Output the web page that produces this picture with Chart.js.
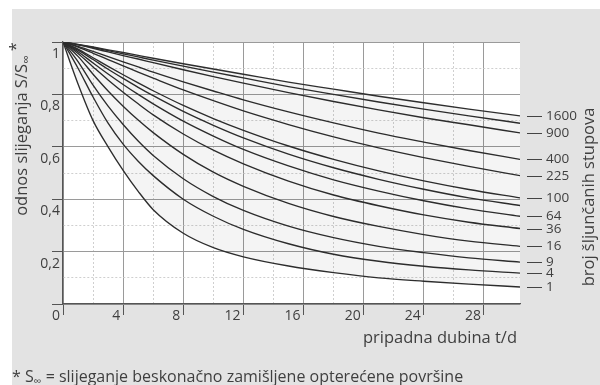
<!DOCTYPE html>
<html><head><meta charset="utf-8">
<script src="https://cdn.jsdelivr.net/npm/chart.js@4.4.0/dist/chart.umd.min.js"></script>
<style>html,body{margin:0;padding:0;background:#fff}#wrap{width:600px;height:385px;position:relative}</style>
</head><body><div id="wrap"><canvas id="c" width="600" height="385"></canvas></div>
<script>
// depth ratio t/d (x values)
const depth = [0,1,2,3,4,5,6,8,10,12,15,18,21,24,27,30.4];
// settlement ratio S/S∞ for each number of stone columns
const s1600 = [1,0.991,0.981,0.970,0.960,0.949,0.938,0.917,0.897,0.877,0.847,0.820,0.793,0.768,0.744,0.718];
const s1225 = [1,0.990,0.979,0.967,0.955,0.943,0.931,0.908,0.885,0.863,0.830,0.800,0.771,0.744,0.718,0.690];
const s900  = [1,0.989,0.976,0.962,0.948,0.935,0.921,0.894,0.868,0.843,0.807,0.773,0.741,0.711,0.684,0.653];
const s400  = [1,0.983,0.964,0.944,0.924,0.905,0.885,0.848,0.813,0.779,0.733,0.691,0.652,0.618,0.586,0.552];
const s225  = [1,0.980,0.957,0.933,0.909,0.885,0.862,0.817,0.776,0.737,0.685,0.638,0.596,0.559,0.525,0.490];
const s100  = [1,0.973,0.940,0.907,0.875,0.844,0.814,0.758,0.708,0.663,0.603,0.552,0.508,0.470,0.437,0.405];
const s81   = [1,0.969,0.933,0.896,0.861,0.827,0.795,0.735,0.682,0.634,0.572,0.520,0.476,0.438,0.405,0.376];
const s64   = [1,0.963,0.920,0.878,0.838,0.800,0.764,0.698,0.641,0.590,0.527,0.474,0.431,0.394,0.363,0.335];
const s36   = [1,0.956,0.905,0.855,0.808,0.764,0.722,0.649,0.587,0.535,0.469,0.416,0.375,0.340,0.312,0.288];
const s16   = [1,0.945,0.877,0.813,0.755,0.702,0.654,0.571,0.503,0.449,0.384,0.334,0.296,0.265,0.240,0.220];
const s9    = [1,0.925,0.835,0.755,0.685,0.622,0.567,0.478,0.410,0.357,0.297,0.253,0.220,0.196,0.176,0.160];
const s4    = [1,0.900,0.790,0.690,0.610,0.545,0.490,0.400,0.335,0.285,0.230,0.190,0.163,0.144,0.130,0.118];
const s1    = [1,0.840,0.700,0.600,0.510,0.430,0.360,0.270,0.215,0.180,0.145,0.120,0.100,0.087,0.076,0.065];
const seriesList = [s1600,s1225,s900,s400,s225,s100,s81,s64,s36,s16,s9,s4,s1];
const curveLabels = ['1600','','900','400','225','100','','64','36','16','9','4','1'];

const FONT = "'Open Sans', 'DejaVu Sans', sans-serif";
const TXT = '#3f3f3f';

const datasets = seriesList.map((s, i) => ({
  label: curveLabels[i],
  data: s.map((v, j) => ({x: depth[j], y: v})),
  borderColor: '#2e2e2e',
  borderWidth: 1.35,
  pointRadius: 0,
  cubicInterpolationMode: 'monotone',
  fill: i === 0 ? seriesList.length - 1 : false,
  backgroundColor: 'rgba(0,0,0,0.045)'
}));

function drawRich(ctx, parts, x, y, align) {
  let w = 0;
  parts.forEach(p => { ctx.font = p.size + 'px ' + FONT; p.w = ctx.measureText(p.t).width; w += p.w; });
  let cx = align === 'center' ? x - w / 2 : (align === 'right' ? x - w : x);
  parts.forEach(p => {
    ctx.font = p.size + 'px ' + FONT;
    ctx.fillText(p.t, cx, y + (p.dy || 0));
    cx += p.w;
  });
}

const deco = {
  id: 'deco',
  beforeDraw(chart) {
    const ctx = chart.ctx, a = chart.chartArea;
    ctx.save();
    ctx.fillStyle = '#ffffff';
    ctx.fillRect(0, 0, 600, 385);
    ctx.fillStyle = '#e3e3e3';
    ctx.fillRect(12, 9, 588, 376);
    ctx.fillStyle = '#ffffff';
    ctx.fillRect(a.left, a.top, a.right - a.left, a.bottom - a.top);
    ctx.restore();
  },
  afterDraw(chart) {
    const ctx = chart.ctx, ys = chart.scales.y;
    ctx.save();
    ctx.fillStyle = TXT;
    ctx.strokeStyle = '#444';
    ctx.lineWidth = 1;
    ctx.textBaseline = 'middle';
    // right-side curve labels
    seriesList.forEach((s, i) => {
      if (!curveLabels[i]) return;
      const y = Math.round(ys.getPixelForValue(s[s.length - 1])) + 0.5;
      ctx.beginPath(); ctx.moveTo(527, y); ctx.lineTo(542, y); ctx.stroke();
      ctx.font = '13.5px ' + FONT;
      ctx.textAlign = 'left';
      ctx.fillText(curveLabels[i], 546, y);
    });
    ctx.textAlign = 'left';
    ctx.textBaseline = 'alphabetic';
    // left axis title (rotated)
    ctx.save();
    ctx.translate(27, 129);
    ctx.rotate(-Math.PI / 2);
    drawRich(ctx, [
      {t: 'odnos slijeganja S/S', size: 16.5},
      {t: '\u221E', size: 12, dy: 3},
      {t: ' *', size: 16.5, dy: -6}
    ], 0, 0, 'center');
    ctx.restore();
    // right axis title (rotated)
    ctx.save();
    ctx.translate(594, 197);
    ctx.rotate(-Math.PI / 2);
    drawRich(ctx, [{t: 'broj šljunčanih stupova', size: 16.5}], 0, 0, 'center');
    ctx.restore();
    // x title
    drawRich(ctx, [{t: 'pripadna dubina t/d', size: 16.5}], 517, 343, 'right');
    // footnote
    drawRich(ctx, [
      {t: '* S', size: 16},
      {t: '\u221E', size: 11, dy: 3},
      {t: ' = slijeganje beskonačno zamišljene opterećene površine', size: 16}
    ], 12, 382, 'left');
    ctx.restore();
  }
};

const isXMajor = v => Math.abs(v % 4) < 1e-6 && v <= 28.01;
const isXMinor = v => Math.abs(v % 2) < 1e-6 && !isXMajor(v);
const yk = v => Math.round(v * 10);
const isYMajor = v => Math.abs(v * 10 - yk(v)) < 1e-6 && yk(v) % 2 === 0;
const isYMinor = v => Math.abs(v * 10 - yk(v)) < 1e-6 && yk(v) % 2 !== 0;

new Chart(document.getElementById('c'), {
  type: 'line',
  data: {datasets},
  plugins: [deco],
  options: {
    responsive: false,
    animation: false,
    layout: {padding: {left: 0, top: 42, right: 80, bottom: 0}},
    plugins: {legend: {display: false}, tooltip: {enabled: false}},
    scales: {
      x: {
        type: 'linear', min: 0, max: 30.4,
        afterFit: s => { s.height = 81; },
        ticks: {
          stepSize: 2, autoSkip: false, maxRotation: 0, minRotation: 0,
          align: 'end', labelOffset: -3, padding: -7,
          color: TXT, font: {family: FONT, size: 14},
          callback: v => isXMajor(v) ? String(v) : ''
        },
        grid: {
          lineWidth: 1,
          tickLength: 11,
          color: c => !c.tick ? 'transparent' : (isXMajor(c.tick.value) ? '#9a9a9a' : (isXMinor(c.tick.value) ? '#cfcfcf' : 'transparent')),
          tickColor: c => (c.tick && isXMajor(c.tick.value)) ? '#555' : 'transparent'
        },
        border: {color: '#555', width: 1.3, dash: c => (c.tick && isXMinor(c.tick.value)) ? [2, 2] : []}
      },
      y: {
        min: 0, max: 1,
        afterFit: s => { s.width = 63; },
        ticks: {
          stepSize: 0.1, autoSkip: false, labelOffset: 12, padding: -8,
          color: TXT, font: {family: FONT, size: 14},
          callback: v => {
            const k = yk(v);
            if (!isYMajor(v) || k === 0) return '';
            return k === 10 ? '1' : '0,' + k;
          }
        },
        grid: {
          lineWidth: 1,
          tickLength: 11,
          color: c => !c.tick ? 'transparent' : (isYMajor(c.tick.value) ? '#9a9a9a' : (isYMinor(c.tick.value) ? '#cfcfcf' : 'transparent')),
          tickColor: c => (c.tick && isYMajor(c.tick.value)) ? '#555' : 'transparent'
        },
        border: {color: '#555', width: 1.3, dash: c => (c.tick && isYMinor(c.tick.value)) ? [2, 2] : []}
      }
    }
  }
});
</script>
</body></html>
